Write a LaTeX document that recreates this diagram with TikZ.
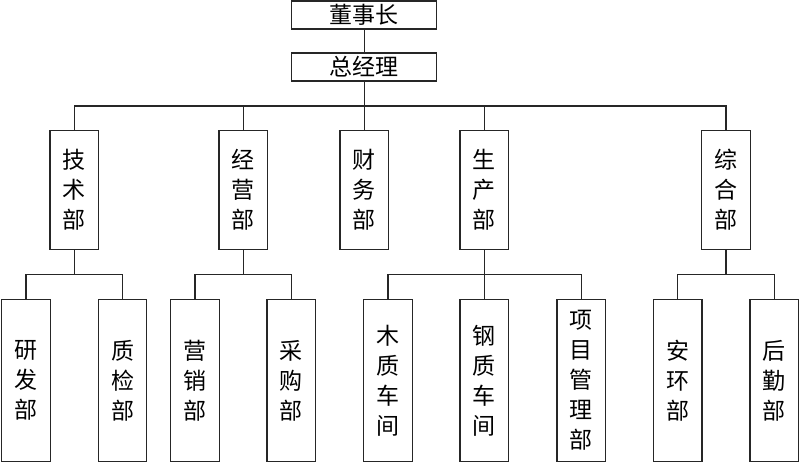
\documentclass[tikz,border=0pt]{standalone}
\usepackage{fontspec}
\newfontfamily\cjk{Noto Sans CJK SC}
\begin{document}
\begin{tikzpicture}[x=1pt,y=-1pt,
  box/.style={draw=black!85,line width=1.3pt,fill=white,inner sep=0pt,align=center,
    font=\cjk\fontsize{23}{30}\selectfont},
  topbox/.style={box,minimum width=145pt,minimum height=28pt},
  midbox/.style={box,minimum width=48.5pt,minimum height=118.5pt},
  lowbox/.style={box,minimum width=48.5pt,minimum height=162pt},
  conn/.style={draw=black!85,line width=1.3pt}]
\useasboundingbox (0,0) rectangle (800,463);
\node[topbox] (dsz) at (364.2,15) {董事长};
\node[topbox] (zjl) at (364.2,67) {总经理};
\coordinate (bus) at (364.2,106);
\node[midbox] (js) at (74.3,190) {技\\术\\部};
\node[midbox] (jy) at (243.3,190) {经\\营\\部};
\node[midbox] (cw) at (364.2,190) {财\\务\\部};
\node[midbox] (sc) at (484.3,190) {生\\产\\部};
\node[midbox] (zh) at (726,190) {综\\合\\部};
\node[lowbox] (yf) at (26,380.5) {研\\发\\部};
\node[lowbox] (zj) at (122.5,380.5) {质\\检\\部};
\node[lowbox] (yx) at (195,380.5) {营\\销\\部};
\node[lowbox] (cg) at (291.3,380.5) {采\\购\\部};
\node[lowbox] (mz) at (388,380.5) {木\\质\\车\\间};
\node[lowbox] (gz) at (484.3,380.5) {钢\\质\\车\\间};
\node[lowbox] (xm) at (581.2,380.5) {项\\目\\管\\理\\部};
\node[lowbox] (ah) at (677.7,380.5) {安\\环\\部};
\node[lowbox] (hq) at (774.2,380.5) {后\\勤\\部};
\draw[conn] (dsz.south) -- (zjl.north);
\draw[conn] (zjl.south) -- (cw.north);
\draw[conn] (js.north) -- (js.north|-bus) -- (zh.north|-bus) -- (zh.north);
\draw[conn] (jy.north) -- (jy.north|-bus);
\draw[conn] (sc.north) -- (sc.north|-bus);
\coordinate (b3) at (0,274.3);
\draw[conn] (js.south) -- (js.south|-b3);
\draw[conn] (yf.north) -- (yf.north|-b3) -- (zj.north|-b3) -- (zj.north);
\draw[conn] (jy.south) -- (jy.south|-b3);
\draw[conn] (yx.north) -- (yx.north|-b3) -- (cg.north|-b3) -- (cg.north);
\draw[conn] (sc.south) -- (gz.north);
\draw[conn] (mz.north) -- (mz.north|-b3) -- (xm.north|-b3) -- (xm.north);
\draw[conn] (zh.south) -- (zh.south|-b3);
\draw[conn] (ah.north) -- (ah.north|-b3) -- (hq.north|-b3) -- (hq.north);
\end{tikzpicture}
\end{document}
